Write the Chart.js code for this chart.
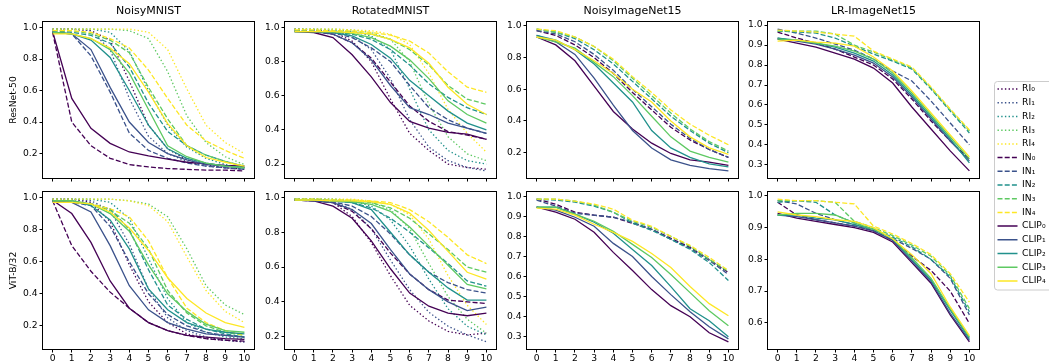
<!DOCTYPE html>
<html><head><meta charset="utf-8">
<script src="https://cdn.jsdelivr.net/npm/chart.js@4"></script>
<style>
html,body{margin:0;padding:0;background:#fff;width:1049px;height:364px;overflow:hidden;position:relative;}
</style></head><body>
<script>
// ---------------- data ----------------
const xValues = [0,1,2,3,4,5,6,7,8,9,10];
const xTicks = [0,1,2,3,4,5,6,7,8,9,10];
const colTitles = ['NoisyMNIST','RotatedMNIST','NoisyImageNet15','LR-ImageNet15'];
const rowLabels = ['ResNet-50','ViT-B/32'];
const legendLabels = ['RI₀','RI₁','RI₂','RI₃','RI₄','IN₀','IN₁','IN₂','IN₃','IN₄','CLIP₀','CLIP₁','CLIP₂','CLIP₃','CLIP₄'];
const yTicksA = [0.2,0.4,0.6,0.8,1.0];
const yTicksB = [0.3,0.4,0.5,0.6,0.7,0.8,0.9,1.0];
const yTicksC = [0.6,0.7,0.8,0.9,1.0];

// NoisyMNIST / ResNet-50
const nmResRI = [
 [0.99,0.99,0.98,0.92,0.66,0.38,0.23,0.16,0.13,0.11,0.10],
 [0.99,0.99,0.98,0.86,0.55,0.31,0.20,0.15,0.12,0.11,0.10],
 [0.99,0.99,0.99,0.97,0.85,0.60,0.38,0.24,0.17,0.13,0.11],
 [0.99,0.99,0.99,0.99,0.98,0.93,0.72,0.44,0.27,0.18,0.13],
 [0.99,0.99,0.99,0.99,0.99,0.97,0.86,0.61,0.38,0.27,0.20]];
const nmResIN = [
 [0.97,0.40,0.25,0.17,0.13,0.115,0.105,0.10,0.095,0.095,0.09],
 [0.97,0.96,0.82,0.59,0.33,0.22,0.17,0.14,0.12,0.11,0.10],
 [0.98,0.97,0.95,0.90,0.75,0.52,0.34,0.25,0.19,0.15,0.12],
 [0.98,0.98,0.96,0.92,0.84,0.62,0.42,0.25,0.19,0.15,0.12],
 [0.98,0.98,0.97,0.93,0.87,0.73,0.55,0.38,0.28,0.22,0.17]];
const nmResCLIP = [
 [0.975,0.55,0.36,0.265,0.21,0.185,0.165,0.145,0.135,0.125,0.12],
 [0.97,0.96,0.86,0.62,0.40,0.27,0.20,0.16,0.13,0.12,0.11],
 [0.97,0.96,0.92,0.81,0.60,0.38,0.23,0.17,0.14,0.12,0.11],
 [0.97,0.96,0.93,0.86,0.71,0.48,0.25,0.18,0.14,0.12,0.11],
 [0.96,0.96,0.93,0.87,0.77,0.59,0.39,0.25,0.175,0.145,0.12]];

// RotatedMNIST / ResNet-50
const rmResRI = [
 [0.99,0.985,0.975,0.92,0.80,0.58,0.38,0.28,0.20,0.18,0.17],
 [0.99,0.985,0.98,0.95,0.87,0.70,0.46,0.30,0.22,0.18,0.16],
 [0.99,0.99,0.985,0.975,0.95,0.87,0.64,0.40,0.28,0.22,0.20],
 [0.99,0.99,0.99,0.985,0.97,0.93,0.80,0.55,0.36,0.26,0.22],
 [0.99,0.99,0.99,0.985,0.98,0.96,0.90,0.73,0.52,0.38,0.27]];
const rmResIN = [
 [0.98,0.975,0.96,0.91,0.82,0.68,0.54,0.45,0.39,0.37,0.345],
 [0.98,0.98,0.97,0.94,0.88,0.80,0.66,0.53,0.46,0.41,0.38],
 [0.98,0.98,0.975,0.96,0.93,0.87,0.78,0.67,0.59,0.53,0.49],
 [0.98,0.98,0.98,0.975,0.96,0.93,0.87,0.78,0.66,0.58,0.55],
 [0.985,0.985,0.98,0.98,0.97,0.955,0.92,0.85,0.74,0.65,0.62]];
const rmResCLIP = [
 [0.975,0.97,0.94,0.84,0.71,0.56,0.45,0.41,0.385,0.375,0.345],
 [0.975,0.975,0.96,0.91,0.81,0.66,0.53,0.49,0.44,0.41,0.38],
 [0.975,0.975,0.97,0.95,0.90,0.82,0.69,0.60,0.51,0.44,0.40],
 [0.975,0.975,0.975,0.965,0.94,0.89,0.81,0.70,0.57,0.49,0.44],
 [0.975,0.975,0.975,0.97,0.96,0.93,0.88,0.79,0.65,0.55,0.49]];

// NoisyImageNet15 / ResNet-50
const niResIN = [
 [0.97,0.94,0.88,0.80,0.70,0.58,0.47,0.36,0.28,0.22,0.17],
 [0.97,0.95,0.90,0.82,0.72,0.60,0.49,0.38,0.29,0.22,0.17],
 [0.98,0.96,0.92,0.85,0.76,0.65,0.54,0.43,0.34,0.26,0.20],
 [0.98,0.96,0.93,0.87,0.78,0.67,0.56,0.45,0.35,0.27,0.21],
 [0.98,0.97,0.93,0.87,0.79,0.68,0.58,0.47,0.38,0.31,0.25]];
const niResCLIP = [
 [0.93,0.88,0.78,0.62,0.46,0.35,0.26,0.195,0.155,0.14,0.12],
 [0.94,0.90,0.82,0.67,0.50,0.34,0.23,0.155,0.12,0.10,0.085],
 [0.94,0.91,0.85,0.76,0.64,0.52,0.34,0.23,0.17,0.13,0.11],
 [0.93,0.90,0.86,0.77,0.68,0.56,0.43,0.30,0.21,0.17,0.14],
 [0.93,0.91,0.85,0.78,0.70,0.60,0.52,0.40,0.30,0.23,0.19]];

// LR-ImageNet15 / ResNet-50
const lrResIN = [
 [0.965,0.935,0.91,0.88,0.84,0.80,0.73,0.63,0.52,0.42,0.33],
 [0.98,0.96,0.935,0.905,0.875,0.83,0.77,0.72,0.62,0.51,0.40],
 [0.97,0.965,0.96,0.935,0.895,0.855,0.82,0.78,0.68,0.57,0.46],
 [0.97,0.97,0.97,0.955,0.90,0.865,0.825,0.785,0.685,0.575,0.47],
 [0.975,0.97,0.965,0.955,0.945,0.87,0.83,0.79,0.69,0.58,0.475]];
const lrResCLIP = [
 [0.93,0.91,0.89,0.86,0.83,0.785,0.71,0.59,0.48,0.37,0.27],
 [0.935,0.92,0.905,0.88,0.85,0.81,0.74,0.64,0.53,0.42,0.32],
 [0.935,0.925,0.91,0.89,0.86,0.82,0.75,0.65,0.54,0.43,0.31],
 [0.93,0.925,0.91,0.895,0.87,0.83,0.76,0.66,0.55,0.44,0.33],
 [0.92,0.925,0.915,0.91,0.895,0.84,0.77,0.67,0.56,0.45,0.34]];

// NoisyMNIST / ViT-B/32
const nmVitRI = [
 [0.99,0.99,0.97,0.85,0.58,0.35,0.22,0.15,0.12,0.11,0.10],
 [0.99,0.99,0.98,0.92,0.71,0.43,0.25,0.17,0.13,0.11,0.10],
 [0.99,0.99,0.99,0.97,0.87,0.62,0.37,0.22,0.16,0.13,0.12],
 [0.99,0.99,0.99,0.99,0.98,0.96,0.88,0.68,0.45,0.33,0.27],
 [0.99,0.99,0.99,0.99,0.98,0.95,0.85,0.63,0.42,0.29,0.22]];
const nmVitIN = [
 [0.98,0.70,0.54,0.41,0.31,0.22,0.17,0.14,0.12,0.11,0.105],
 [0.98,0.97,0.95,0.82,0.60,0.40,0.27,0.20,0.16,0.14,0.13],
 [0.98,0.97,0.96,0.93,0.80,0.55,0.33,0.24,0.18,0.15,0.13],
 [0.98,0.97,0.96,0.92,0.84,0.68,0.42,0.28,0.20,0.16,0.14],
 [0.98,0.97,0.96,0.93,0.88,0.73,0.50,0.31,0.22,0.17,0.14]];
const nmVitCLIP = [
 [0.983,0.90,0.72,0.48,0.31,0.22,0.17,0.14,0.13,0.12,0.115],
 [0.98,0.97,0.91,0.70,0.45,0.30,0.22,0.18,0.15,0.14,0.13],
 [0.98,0.98,0.95,0.86,0.68,0.43,0.30,0.22,0.18,0.16,0.15],
 [0.98,0.98,0.96,0.90,0.79,0.58,0.40,0.29,0.21,0.17,0.16],
 [0.97,0.97,0.96,0.91,0.81,0.67,0.50,0.37,0.28,0.22,0.19]];

// RotatedMNIST / ViT-B/32
const rmVitRI = [
 [0.99,0.99,0.97,0.89,0.74,0.55,0.38,0.29,0.23,0.21,0.22],
 [0.99,0.99,0.98,0.93,0.82,0.64,0.47,0.34,0.26,0.21,0.17],
 [0.99,0.99,0.99,0.98,0.95,0.87,0.72,0.53,0.36,0.26,0.21],
 [0.99,0.99,0.99,0.985,0.97,0.93,0.82,0.62,0.43,0.30,0.22],
 [0.99,0.99,0.99,0.99,0.98,0.96,0.90,0.76,0.55,0.38,0.27]];
const rmVitIN = [
 [0.985,0.98,0.97,0.92,0.82,0.68,0.56,0.47,0.41,0.40,0.39],
 [0.985,0.985,0.975,0.95,0.89,0.79,0.67,0.57,0.51,0.47,0.45],
 [0.99,0.985,0.98,0.97,0.94,0.88,0.80,0.71,0.62,0.52,0.49],
 [0.99,0.99,0.985,0.98,0.97,0.94,0.88,0.79,0.70,0.60,0.57],
 [0.99,0.99,0.985,0.985,0.98,0.97,0.93,0.86,0.77,0.67,0.62]];
const rmVitCLIP = [
 [0.985,0.98,0.95,0.88,0.75,0.59,0.45,0.375,0.335,0.32,0.335],
 [0.985,0.98,0.97,0.93,0.85,0.70,0.56,0.47,0.40,0.35,0.37],
 [0.985,0.985,0.98,0.97,0.93,0.80,0.67,0.57,0.48,0.41,0.41],
 [0.985,0.985,0.98,0.975,0.96,0.92,0.83,0.72,0.61,0.50,0.475],
 [0.985,0.985,0.98,0.98,0.975,0.96,0.91,0.81,0.69,0.57,0.53]];

// NoisyImageNet15 / ViT-B/32
const niVitIN = [
 [0.985,0.96,0.92,0.905,0.895,0.865,0.835,0.79,0.745,0.685,0.62],
 [0.98,0.95,0.915,0.905,0.895,0.87,0.835,0.785,0.74,0.68,0.61],
 [0.985,0.98,0.97,0.95,0.92,0.865,0.83,0.785,0.735,0.67,0.58],
 [0.985,0.985,0.975,0.955,0.92,0.875,0.845,0.80,0.75,0.685,0.625],
 [0.985,0.985,0.975,0.96,0.935,0.88,0.85,0.80,0.755,0.695,0.63]];
const niVitCLIP = [
 [0.945,0.92,0.885,0.82,0.72,0.63,0.535,0.455,0.40,0.32,0.275],
 [0.945,0.93,0.895,0.85,0.765,0.70,0.60,0.51,0.425,0.35,0.29],
 [0.945,0.945,0.91,0.87,0.815,0.735,0.655,0.55,0.44,0.38,0.30],
 [0.945,0.945,0.91,0.875,0.825,0.76,0.695,0.61,0.52,0.43,0.355],
 [0.94,0.935,0.905,0.86,0.82,0.775,0.715,0.645,0.55,0.465,0.405]];

// LR-ImageNet15 / ViT-B/32
const lrVitIN = [
 [0.98,0.94,0.925,0.915,0.905,0.89,0.86,0.81,0.765,0.70,0.598],
 [0.985,0.975,0.945,0.925,0.91,0.895,0.865,0.835,0.80,0.74,0.625],
 [0.98,0.985,0.98,0.94,0.915,0.895,0.87,0.84,0.80,0.745,0.635],
 [0.985,0.985,0.985,0.98,0.92,0.90,0.875,0.845,0.81,0.75,0.645],
 [0.99,0.985,0.985,0.98,0.975,0.905,0.88,0.85,0.815,0.755,0.665]];
const lrVitCLIP = [
 [0.945,0.93,0.92,0.91,0.90,0.885,0.855,0.79,0.725,0.625,0.54],
 [0.94,0.935,0.925,0.915,0.905,0.89,0.86,0.795,0.73,0.63,0.545],
 [0.94,0.94,0.93,0.925,0.91,0.895,0.865,0.80,0.735,0.64,0.55],
 [0.94,0.945,0.945,0.94,0.915,0.895,0.865,0.805,0.74,0.645,0.555],
 [0.95,0.94,0.935,0.925,0.92,0.90,0.865,0.815,0.755,0.65,0.56]];

// ---------------- styling / layout ----------------
const FONT = 'DejaVu Sans';
const viridis5 = ['#440154','#3b528b','#21918c','#5ec962','#fde725'];
const LW = 1.3;
const dashes = {RI:[1.4,2.3], IN:[5,2.2], CLIP:[]};
Chart.defaults.font.family = FONT;
Chart.defaults.color = '#000';
Chart.defaults.animation = false;

const colLeft = [43, 285, 527, 768];
const rowTop = [22, 192];
const plotW = 211;
const plotH = [156, 157];
const AW = 43, RP = 8;
const TH = [22, 10], BH = [10, 15];

const panels = [
 {row:0,col:0,ri:nmResRI,inn:nmResIN,clip:nmResCLIP,yt:yTicksA},
 {row:0,col:1,ri:rmResRI,inn:rmResIN,clip:rmResCLIP,yt:yTicksA},
 {row:0,col:2,ri:null,inn:niResIN,clip:niResCLIP,yt:yTicksA},
 {row:0,col:3,ri:null,inn:lrResIN,clip:lrResCLIP,yt:yTicksB},
 {row:1,col:0,ri:nmVitRI,inn:nmVitIN,clip:nmVitCLIP,yt:yTicksA},
 {row:1,col:1,ri:rmVitRI,inn:rmVitIN,clip:rmVitCLIP,yt:yTicksA},
 {row:1,col:2,ri:null,inn:niVitIN,clip:niVitCLIP,yt:yTicksB},
 {row:1,col:3,ri:null,inn:lrVitIN,clip:lrVitCLIP,yt:yTicksC}
];

const framePlugin = {
  id: 'frame',
  afterDatasetsDraw(chart) {
    const {ctx, chartArea: a} = chart;
    ctx.save();
    ctx.strokeStyle = '#000';
    ctx.lineWidth = 1;
    const l = Math.round(a.left) - 0.5, t = Math.round(a.top) - 0.5;
    const r = Math.round(a.right) + 0.5, b = Math.round(a.bottom) + 0.5;
    ctx.strokeRect(l, t, r - l, b - t);
    ctx.restore();
  }
};

function makeCanvas(left, top, width, height) {
  const c = document.createElement('canvas');
  c.width = width; c.height = height;
  c.style.cssText = `position:absolute;left:${left}px;top:${top}px;width:${width}px;height:${height}px;`;
  document.body.appendChild(c);
  return c;
}

function familyDatasets(arr, fam, famIdx) {
  if (!arr) return [];
  return arr.map((vals, i) => ({
    label: legendLabels[famIdx * 5 + i],
    data: xValues.map((x, j) => ({x: x, y: vals[j]})),
    borderColor: viridis5[i],
    backgroundColor: viridis5[i],
    borderDash: dashes[fam],
    borderWidth: LW,
    borderCapStyle: 'butt',
    pointRadius: 0, pointHoverRadius: 0,
    tension: 0, fill: false,
    order: 14 - (famIdx * 5 + i)
  }));
}

panels.forEach(p => {
  const ds = [].concat(familyDatasets(p.ri, 'RI', 0), familyDatasets(p.inn, 'IN', 1), familyDatasets(p.clip, 'CLIP', 2));
  let mn = Infinity, mx = -Infinity;
  ds.forEach(d => d.data.forEach(pt => { mn = Math.min(mn, pt.y); mx = Math.max(mx, pt.y); }));
  const span = mx - mn;
  const yMin = mn - 0.05 * span, yMax = mx + 0.05 * span;
  const r = p.row;
  const W = AW + plotW + RP, H = TH[r] + plotH[r] + BH[r];
  const cv = makeCanvas(colLeft[p.col] - AW, rowTop[r] - TH[r], W, H);
  const showXLabels = r === 1;
  new Chart(cv, {
    type: 'line',
    data: {datasets: ds},
    plugins: [framePlugin],
    options: {
      responsive: false, devicePixelRatio: 1, animation: false,
      layout: {padding: {left: 0, right: RP, top: r === 0 ? 0 : TH[r], bottom: 0}},
      plugins: {
        legend: {display: false},
        tooltip: {enabled: false},
        title: {
          display: r === 0, text: colTitles[p.col], fullSize: false,
          font: {family: FONT, size: 11, weight: 'normal'}, color: '#000',
          padding: {top: 5, bottom: 3.8}
        }
      },
      scales: {
        x: {
          type: 'linear', min: -0.5, max: 10.5,
          afterBuildTicks: s => { s.ticks = xTicks.map(v => ({value: v})); },
          afterFit: s => { s.height = BH[r]; },
          ticks: {
            autoSkip: false, maxRotation: 0, padding: 1,
            font: {family: FONT, size: 9.2}, color: '#000',
            callback: v => showXLabels ? String(v) : ''
          },
          grid: {display: true, drawOnChartArea: false, drawTicks: true, tickLength: 3.5, color: '#000', lineWidth: 1},
          border: {display: false}
        },
        y: {
          type: 'linear', min: yMin, max: yMax,
          afterBuildTicks: s => { s.ticks = p.yt.map(v => ({value: v})); },
          afterFit: s => { s.width = AW; },
          ticks: {
            autoSkip: false, padding: 2,
            font: {family: FONT, size: 9.2}, color: '#000',
            callback: v => Number(v).toFixed(1)
          },
          grid: {display: true, drawOnChartArea: false, drawTicks: true, tickLength: 3.5, color: '#000', lineWidth: 1},
          border: {display: false},
          title: {
            display: p.col === 0, text: rowLabels[r],
            font: {family: FONT, size: 9.2}, color: '#000',
            padding: {top: 7.8, bottom: 0}
          }
        }
      }
    }
  });
});

// ---------------- legend ----------------
const legendFrame = {
  id: 'legendFrame',
  beforeDraw(chart) {
    const ctx = chart.ctx;
    ctx.save();
    ctx.fillStyle = 'rgba(255,255,255,0.8)';
    ctx.strokeStyle = '#cccccc';
    ctx.lineWidth = 1;
    const x = 1.5, y = 1.5, w = 150, h = 208.5, rr = 3;
    ctx.beginPath();
    ctx.moveTo(x + rr, y);
    ctx.lineTo(x + w - rr, y); ctx.arcTo(x + w, y, x + w, y + rr, rr);
    ctx.lineTo(x + w, y + h - rr); ctx.arcTo(x + w, y + h, x + w - rr, y + h, rr);
    ctx.lineTo(x + rr, y + h); ctx.arcTo(x, y + h, x, y + h - rr, rr);
    ctx.lineTo(x, y + rr); ctx.arcTo(x, y, x + rr, y, rr);
    ctx.closePath();
    ctx.fill(); ctx.stroke();
    ctx.restore();
  }
};
const legendDs = [].concat(
  familyDatasets([[],[],[],[],[]], 'RI', 0),
  familyDatasets([[],[],[],[],[]], 'IN', 1),
  familyDatasets([[],[],[],[],[]], 'CLIP', 2)
).map(d => { d.data = []; delete d.order; d.borderWidth = 1.5; return d; });
const lc = makeCanvas(992.5, 80, 200, 240);
new Chart(lc, {
  type: 'line',
  data: {datasets: legendDs},
  plugins: [legendFrame],
  options: {
    responsive: false, devicePixelRatio: 1, animation: false,
    layout: {padding: 0},
    scales: {x: {display: false, type: 'linear'}, y: {display: false}},
    plugins: {
      tooltip: {enabled: false},
      title: {display: false},
      legend: {
        display: true, position: 'left', align: 'start',
        labels: {
          usePointStyle: true, pointStyle: 'line', pointStyleWidth: 20,
          font: {family: FONT, size: 9.2}, color: '#000', padding: 4.5,
          generateLabels: chart => chart.data.datasets.map((d, i) => ({
            text: d.label,
            datasetIndex: i,
            fillStyle: d.borderColor,
            strokeStyle: d.borderColor,
            lineWidth: d.borderWidth,
            lineDash: d.borderDash,
            lineDashOffset: 0,
            lineCap: 'butt',
            pointStyle: 'line',
            hidden: false,
            fontColor: '#000'
          }))
        }
      }
    }
  }
});
</script>
</body></html>
